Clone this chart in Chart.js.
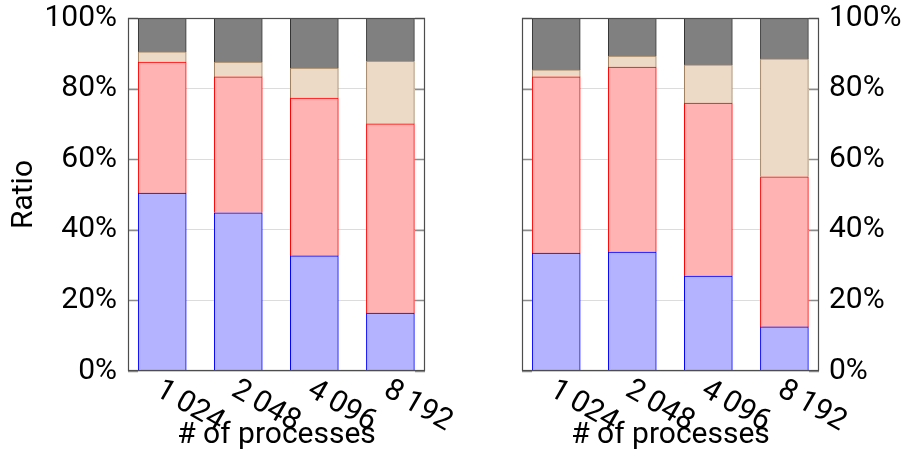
<!DOCTYPE html>
<html><head><meta charset="utf-8">
<script src="https://cdn.jsdelivr.net/npm/chart.js@4/dist/chart.umd.min.js"></script>
<style>
html,body{margin:0;padding:0;background:#fff;width:911px;height:455px;overflow:hidden}
.p{position:absolute;top:0}
</style></head><body>
<div class="p" style="left:0px"><canvas id="c1" width="460" height="455"></canvas></div>
<div class="p" style="left:455px"><canvas id="c2" width="456" height="455"></canvas></div>
<script>
// ---- data ----
const categories = ['1\u2009024', '2\u2009048', '4\u2009096', '8\u2009192'];
const segmentNames = ['part 1', 'part 2', 'part 3', 'part 4'];
// left panel (segment sizes, %)
const leftBlue  = [50.4, 44.8, 32.6, 16.4];
const leftRed   = [37.1, 38.5, 44.7, 53.6];
const leftTan   = [2.9, 4.2, 8.5, 17.8];
const leftGray  = [9.6, 12.5, 14.2, 12.2];
// right panel (segment sizes, %)
const rightBlue = [33.4, 33.7, 26.9, 12.5];
const rightRed  = [49.9, 52.4, 49.0, 42.5];
const rightTan  = [2.0, 3.1, 10.8, 33.4];
const rightGray = [14.7, 10.8, 13.3, 11.6];
const yTickValues = [0, 20, 40, 60, 80, 100];
const yAxisTitle = 'Ratio';
const xAxisTitle = '# of processes';

// ---- styles ----
const FONT = 'Roboto';
const FSIZE = 30;
const fills   = ['#b3b3ff', '#ffb3b3', '#ecd9c6', '#808080'];
const borders = ['#0000ff', '#ff0000', '#a0805f', '#333333'];

const framePlugin = {
  id: 'frame',
  beforeDatasetsDraw(chart) {
    const {ctx, chartArea: a, scales: {y}} = chart;
    ctx.save();
    ctx.strokeStyle = '#8c8c8c';
    ctx.lineWidth = 1.5;
    yTickValues.forEach(v => {
      const py = Math.round(y.getPixelForValue(v)) + 0.5;
      ctx.beginPath();
      ctx.moveTo(a.left, py); ctx.lineTo(a.left + 10, py);
      ctx.moveTo(a.right - 10, py); ctx.lineTo(a.right, py);
      ctx.stroke();
    });
    ctx.restore();
  },
  afterDraw(chart) {
    const {ctx, chartArea: a, scales: {x}} = chart;
    ctx.save();
    ctx.strokeStyle = '#4d4d4d';
    ctx.lineWidth = 1.2;
    ctx.strokeRect(a.left + 0.5, a.top + 0.5, a.right - a.left - 1, a.bottom - a.top - 1);
    ctx.fillStyle = '#000';
    ctx.font = FSIZE + 'px ' + FONT;
    categories.forEach((lab, i) => {
      const cx = x.getPixelForValue(i);
      ctx.save();
      ctx.translate(cx + 3, a.bottom + 4);
      ctx.rotate(Math.PI / 6);
      ctx.textAlign = 'left';
      ctx.textBaseline = 'top';
      ctx.fillText(lab, 0, 0);
      ctx.restore();
    });
    ctx.textAlign = 'center';
    ctx.textBaseline = 'alphabetic';
    ctx.fillText(xAxisTitle, (a.left + a.right) / 2, 443);
    ctx.restore();
  }
};

function makeChart(id, series, side) {
  return new Chart(document.getElementById(id), {
    type: 'bar',
    data: {
      datasets: series.map((vals, k) => ({
        label: segmentNames[k],
        data: vals.map((v, i) => ({x: i, y: v})),
        backgroundColor: fills[k],
        borderColor: borders[k],
        borderWidth: 1,
        barThickness: 48
      }))
    },
    options: {
      responsive: false,
      animation: false,
      devicePixelRatio: 1,
      layout: {padding: side === 'left'
        ? {left: 0, right: 35, top: 18, bottom: 84}
        : {left: 67, right: 0, top: 18, bottom: 84}},
      plugins: {legend: {display: false}, tooltip: {enabled: false}},
      scales: {
        x: {type: 'linear', stacked: true, offset: false, grace: 0,
            min: -0.45, max: 3.455, display: false},
        y: {
          stacked: true, position: side, min: 0, max: 100,
          afterBuildTicks(s) { s.ticks = yTickValues.map(v => ({value: v})); },
          afterFit(s) { s.width = side === 'left' ? 128 : 92; },
          grid: {color: '#dcdcdc', drawTicks: false},
          border: {display: false},
          ticks: {padding: side === 'left' ? 11 : 10, color: '#000',
                  font: {family: FONT, size: FSIZE, lineHeight: 0.3}, callback: v => v + '%'},
          title: side === 'left'
            ? {display: true, text: yAxisTitle, color: '#000',
               font: {family: FONT, size: FSIZE}, padding: {top: 6, bottom: 0}}
            : {display: false}
        }
      }
    },
    plugins: [framePlugin]
  });
}

makeChart('c1', [leftBlue, leftRed, leftTan, leftGray], 'left');
makeChart('c2', [rightBlue, rightRed, rightTan, rightGray], 'right');
</script>
</body></html>
